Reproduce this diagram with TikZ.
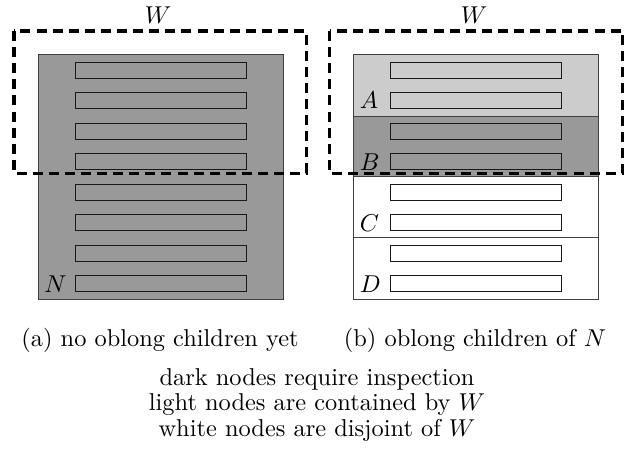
\documentclass[tikz,border=0pt]{standalone}
\begin{document}
\begin{tikzpicture}[x=0.41pt,y=-0.41pt,
  dark/.style={fill=black!40,draw=black!75,line width=0.4pt},
  light/.style={fill=black!20,draw=black!75,line width=0.4pt},
  blank/.style={fill=white,draw=black!75,line width=0.4pt},
  bar/.style={draw=black!90,line width=0.4pt},
  window/.style={draw=black,line width=1.25pt,dash pattern=on 4.1pt off 2.5pt},
  lbl/.style={anchor=base west,inner sep=0pt,font=\itshape},
  txt/.style={anchor=base,inner sep=0pt}]
\useasboundingbox (0,0) rectangle (632,454);

% (a) a single node N, all children still to be split
\path[dark] (38.5,54.5) rectangle (283,299);
\foreach \k in {0,...,7}
  \path[bar] (75.5,62.3+30.5*\k) rectangle (246.2,78.3+30.5*\k);
\node[lbl] (N) at (44,292.3) {$N$};
\path[window] (14,31) rectangle (306.5,173.3);
\node[txt] (Wa) at (158,23) {$W$};

% (b) N split into four oblong children A, B, C, D
\path[light] (353.5,54.5) rectangle (598,116);
\path[dark]  (353.5,116) rectangle (598,176.8);
\path[blank] (353.5,176.8) rectangle (598,237.8);
\path[blank] (353.5,237.8) rectangle (598,299);
\foreach \k/\c in {0/black!20,1/black!20,2/black!40,3/black!40,4/white,5/white,6/white,7/white}
  \path[bar,fill=\c] (390.5,62.3+30.5*\k) rectangle (561.2,78.3+30.5*\k);
\node[lbl] (A) at (359.5,108.8) {$A$};
\node[lbl] (B) at (359.5,170.3) {$B$};
\node[lbl] (C) at (359.5,231.3) {$C$};
\node[lbl] (D) at (359.5,292.3) {$D$};
\path[window] (329.5,31) rectangle (622.5,173.3);
\node[txt] (Wb) at (474,23) {$W$};

% captions and legend
\node[txt] (capa) at (160,346.5) {(a) no oblong children yet};
\node[txt] (capb) at (475,346.5) {(b) oblong children of $N$};
\node[txt] (l1) at (317,385) {dark nodes require inspection};
\node[txt] (l2) at (317,410.5) {light nodes are contained by $W$};
\node[txt] (l3) at (317,436) {white nodes are disjoint of $W$};
\end{tikzpicture}
\end{document}
